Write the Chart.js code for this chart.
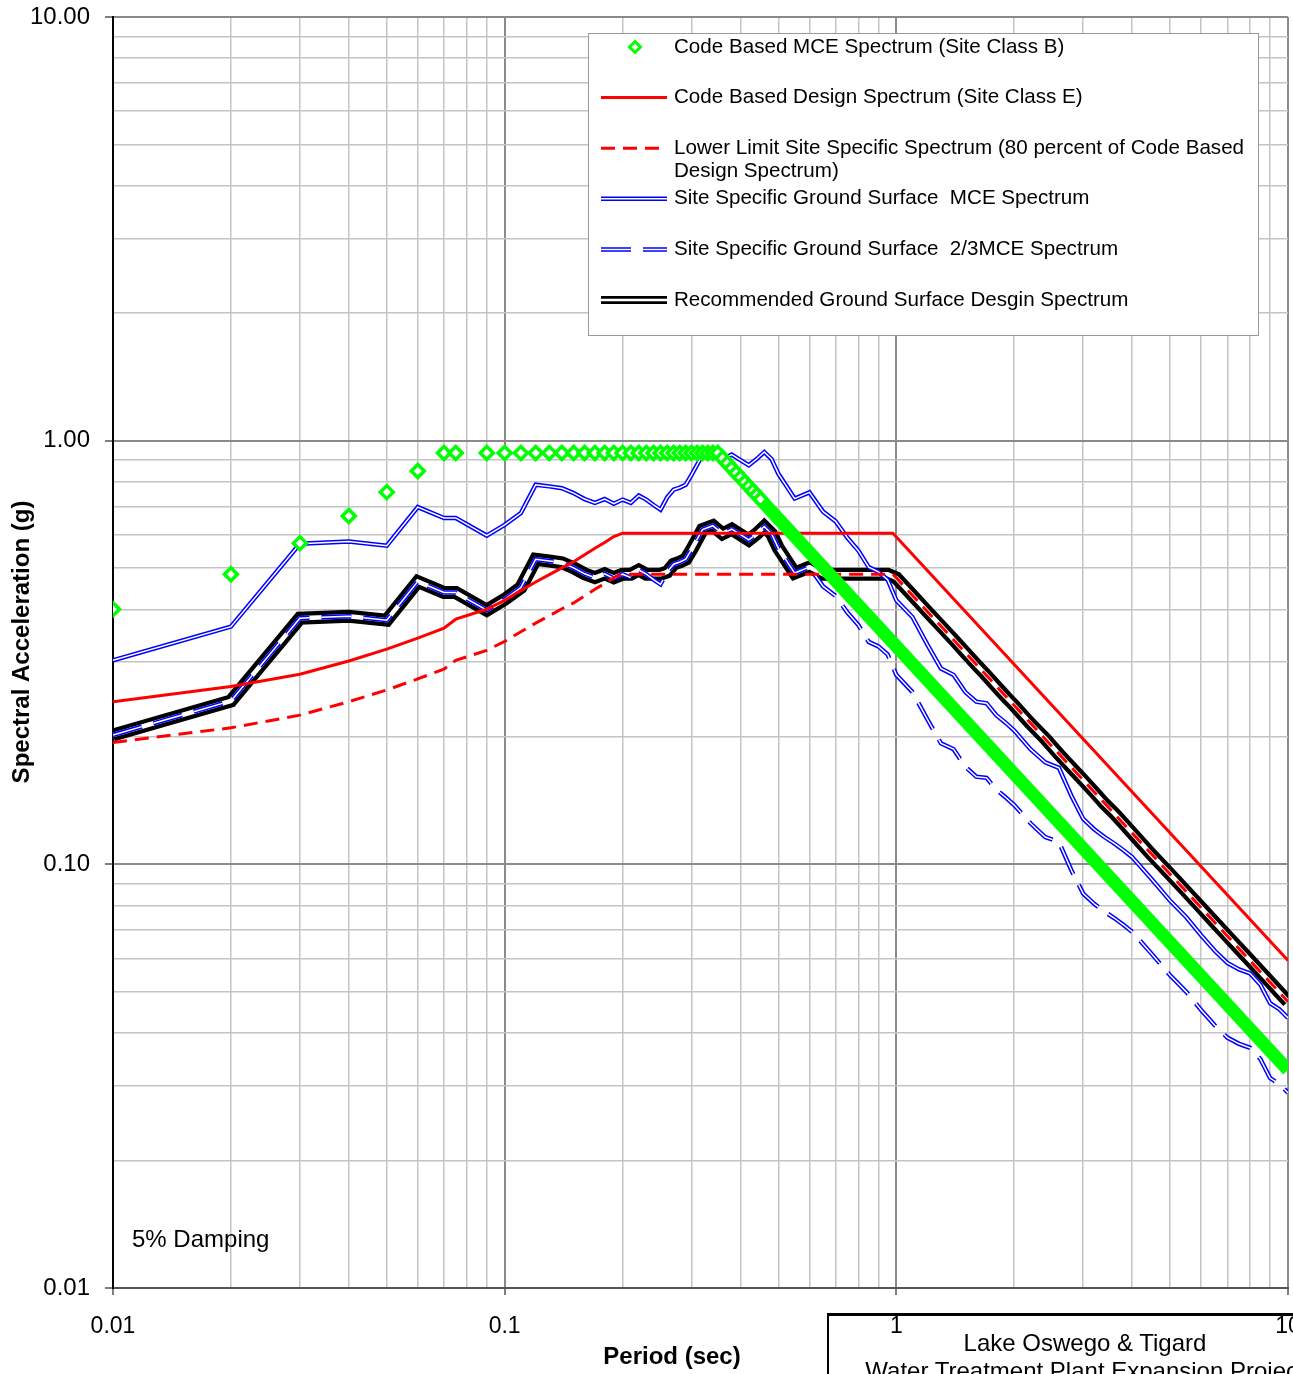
<!DOCTYPE html>
<html>
<head>
<meta charset="utf-8">
<title>Response Spectra</title>
<script src="https://cdn.jsdelivr.net/npm/chart.js@4.4.0/dist/chart.umd.min.js"></script>
<style>
  html, body { margin: 0; padding: 0; background: #fff; overflow: hidden; }
  #wrap { position: relative; width: 1293px; height: 1374px; }
  #titleBlock {
    position: absolute; left: 827px; top: 1313px; width: 514px; height: 90px;
    box-sizing: border-box; border-top: 3px solid #000; border-left: 2px solid #000;
    padding-top: 13px; text-align: center; line-height: 30px; color: #000;
    font: 24px "Liberation Sans", Arial, sans-serif;
  }
</style>
</head>
<body>
<div id="wrap">
  <canvas id="grafica" width="1293" height="1374"></canvas>
  <div id="titleBlock">Lake Oswego &amp; Tigard<br>Water Treatment Plant Expansion Project</div>
</div>
<script>
// Periodos y ordenadas (Sa en g)
const decades = [0.01, 0.1, 1, 10];
const xTickLabels = ['0.01', '0.1', '1', '10'];
const yTickLabels = ['0.01', '0.10', '1.00', '10.00'];

// Code Based MCE Spectrum (Site Class B)
const mceBPeriods = [0.01, 0.02, 0.03, 0.04, 0.05, 0.06, 0.07, 0.075, 0.09,
  0.10, 0.11, 0.12, 0.13, 0.14, 0.15, 0.16, 0.17, 0.18, 0.19, 0.20, 0.21, 0.22,
  0.23, 0.24, 0.25, 0.26, 0.27, 0.28, 0.29, 0.30, 0.31, 0.32, 0.33, 0.34, 0.35,
  0.36, 0.37, 0.38, 0.39, 0.40, 0.41, 0.42, 0.43, 0.44, 0.45, 10];
const mceB = [0.400, 0.484, 0.573, 0.664, 0.756, 0.848, 0.935, 0.935, 0.935,
  0.935, 0.935, 0.935, 0.935, 0.935, 0.935, 0.935, 0.935, 0.935, 0.935, 0.935, 0.935, 0.935,
  0.935, 0.935, 0.935, 0.935, 0.935, 0.935, 0.935, 0.935, 0.935, 0.935, 0.935, 0.935, 0.935,
  0.909, 0.884, 0.861, 0.839, 0.818, 0.798, 0.779, 0.761, 0.744, 0.727, 0.0327];

// Code Based Design Spectrum (Site Class E) y limite inferior (80 %)
const codePeriods = [0.01, 0.02, 0.03, 0.04, 0.05, 0.06, 0.07, 0.075, 0.09, 0.10,
  0.11, 0.12, 0.13, 0.14, 0.15, 0.16, 0.17, 0.18, 0.19, 0.20, 0.98, 10];
const codeDesign = [0.242, 0.263, 0.281, 0.302, 0.322, 0.342, 0.361, 0.379, 0.400, 0.420,
  0.443, 0.464, 0.483, 0.501, 0.518, 0.538, 0.557, 0.575, 0.594, 0.605, 0.605, 0.0593];
const lowerLimit = [0.194, 0.210, 0.225, 0.242, 0.258, 0.274, 0.289, 0.303, 0.320, 0.336,
  0.354, 0.371, 0.386, 0.401, 0.414, 0.430, 0.446, 0.460, 0.475, 0.484, 0.484, 0.0474];

// Espectros especificos del sitio
const sitePeriods = [0.01, 0.02, 0.03, 0.04, 0.05, 0.06, 0.07, 0.075, 0.09, 0.10,
  0.11, 0.12, 0.13, 0.14, 0.15, 0.16, 0.17, 0.18, 0.19, 0.20,
  0.21, 0.22, 0.23, 0.24, 0.25, 0.26, 0.27, 0.28, 0.29, 0.30,
  0.32, 0.34, 0.36, 0.38, 0.40, 0.42, 0.44, 0.46, 0.48, 0.50,
  0.55, 0.60, 0.65, 0.70, 0.75, 0.80, 0.85, 0.90, 0.95, 1.0,
  1.1, 1.2, 1.3, 1.4, 1.5, 1.6, 1.7, 1.8, 1.9, 2.0,
  2.2, 2.4, 2.6, 2.8, 3.0, 3.2, 3.4, 3.6, 3.8, 4.0,
  4.5, 5.0, 5.5, 6.0, 6.5, 7.0, 7.5, 8.0, 8.5, 9.0, 9.5, 10];
const siteMCE = [0.303, 0.364, 0.571, 0.578, 0.565, 0.697, 0.657, 0.657, 0.597, 0.633,
  0.675, 0.787, 0.780, 0.772, 0.752, 0.728, 0.713, 0.728, 0.710, 0.726,
  0.713, 0.742, 0.726, 0.705, 0.687, 0.735, 0.766, 0.775, 0.787, 0.830,
  0.925, 0.945, 0.905, 0.927, 0.900, 0.875, 0.905, 0.940, 0.905, 0.835,
  0.730, 0.755, 0.680, 0.645, 0.590, 0.550, 0.503, 0.490, 0.470, 0.420,
  0.383, 0.330, 0.290, 0.280, 0.255, 0.242, 0.240, 0.225, 0.216, 0.207,
  0.187, 0.174, 0.169, 0.145, 0.128, 0.121, 0.116, 0.112, 0.108, 0.104,
  0.092, 0.082, 0.075, 0.068, 0.0625, 0.0585, 0.0565, 0.0553, 0.052, 0.047, 0.0455, 0.0434];
const site23MCE = [0.202, 0.243, 0.381, 0.385, 0.377, 0.465, 0.438, 0.438, 0.398, 0.422,
  0.450, 0.525, 0.520, 0.515, 0.501, 0.485, 0.475, 0.485, 0.473, 0.484,
  0.475, 0.495, 0.484, 0.470, 0.458, 0.490, 0.511, 0.517, 0.525, 0.553,
  0.617, 0.630, 0.603, 0.618, 0.600, 0.583, 0.603, 0.627, 0.603, 0.557,
  0.487, 0.503, 0.453, 0.430, 0.393, 0.367, 0.335, 0.327, 0.313, 0.280,
  0.255, 0.220, 0.193, 0.187, 0.170, 0.161, 0.160, 0.150, 0.144, 0.138,
  0.125, 0.116, 0.113, 0.0967, 0.0853, 0.0807, 0.0773, 0.0747, 0.0720, 0.0693,
  0.0613, 0.0547, 0.0500, 0.0453, 0.0417, 0.0390, 0.0377, 0.0369, 0.0347, 0.0313, 0.0303, 0.0289];
const recommended = [0.202, 0.243, 0.381, 0.385, 0.377, 0.465, 0.438, 0.438, 0.398, 0.422,
  0.450, 0.525, 0.520, 0.515, 0.501, 0.485, 0.475, 0.485, 0.475, 0.484,
  0.484, 0.495, 0.484, 0.484, 0.484, 0.490, 0.511, 0.517, 0.525, 0.553,
  0.617, 0.630, 0.603, 0.618, 0.600, 0.583, 0.603, 0.627, 0.603, 0.557,
  0.487, 0.503, 0.484, 0.484, 0.484, 0.484, 0.484, 0.484, 0.484, 0.474,
  0.431, 0.395, 0.365, 0.339, 0.316, 0.296, 0.279, 0.263, 0.249, 0.237,
  0.215, 0.198, 0.182, 0.169, 0.158, 0.148, 0.139, 0.132, 0.125, 0.1185,
  0.105, 0.0948, 0.0862, 0.079, 0.0729, 0.0677, 0.0632, 0.0593, 0.0558, 0.0527, 0.0499, 0.0474];

const FONT = '"Liberation Sans", Arial, sans-serif';
const pts = (xs, ys) => xs.map((x, i) => ({ x: x, y: ys[i] }));
const isDecade = v => Math.abs(Math.log10(v) - Math.round(Math.log10(v))) < 1e-6;
const decadeLabel = (v, labels) => {
  const i = decades.findIndex(d => Math.abs(v / d - 1) < 1e-6);
  return i < 0 ? '' : labels[i];
};
function logTicks(scale) {
  const ticks = [];
  decades.slice(0, -1).forEach(d => {
    for (let m = 1; m <= 9; m++) ticks.push({ value: +(m * d).toPrecision(6) });
  });
  ticks.push({ value: decades[decades.length - 1] });
  scale.ticks = ticks;
}
const gridOpts = (len) => ({
  color: c => c.tick && isDecade(c.tick.value) ? '#8a8a8a' : '#c4c4c4',
  lineWidth: c => c.tick && isDecade(c.tick.value) ? 2 : 1.5,
  tickColor: c => c.tick && isDecade(c.tick.value) ? '#555' : 'rgba(0,0,0,0)',
  tickLength: len,
  tickWidth: 1.5
});

// leyenda dentro del area, recuadro blanco
const extras = {
  id: 'extras',
  afterDraw(chart) {
    const ctx = chart.ctx;
    ctx.save();
    ctx.fillStyle = '#fff';
    ctx.strokeStyle = '#9a9a9a';
    ctx.lineWidth = 1;
    ctx.fillRect(588, 33, 670, 302);
    ctx.strokeRect(588.5, 33.5, 670, 302);

    ctx.font = '20.6px ' + FONT;
    ctx.textBaseline = 'middle';
    ctx.textAlign = 'left';
    const entries = chart.data.datasets.filter(d => !d.helper);
    entries.forEach((ds, i) => {
      const y = 47 + i * 50.6;
      if (ds.pointStyle === 'rectRot') {
        const x = 635, r = 5.5;
        ctx.beginPath();
        ctx.moveTo(x, y - r); ctx.lineTo(x + r, y); ctx.lineTo(x, y + r); ctx.lineTo(x - r, y);
        ctx.closePath();
        ctx.fillStyle = '#fff'; ctx.fill();
        ctx.strokeStyle = ds.pointBorderColor; ctx.lineWidth = 3; ctx.stroke();
      } else {
        const strokes = [[ds.borderColor, ds.legendWidth || ds.borderWidth]];
        if (ds.legendInner) strokes.push(['#fff', ds.legendInner]);
        strokes.forEach(s => {
          ctx.beginPath();
          ctx.setLineDash(ds.borderDash || []);
          ctx.strokeStyle = s[0]; ctx.lineWidth = s[1];
          ctx.moveTo(601, y); ctx.lineTo(667, y); ctx.stroke();
        });
        ctx.setLineDash([]);
      }
      // texto con ajuste de linea
      ctx.fillStyle = '#000';
      const words = ds.label.split(' ');
      let line = '', ly = y;
      words.forEach(w => {
        const test = line ? line + ' ' + w : w;
        if (ctx.measureText(test).width > 580 && line) {
          ctx.fillText(line, 674, ly); line = w; ly += 23;
        } else line = test;
      });
      ctx.fillText(line, 674, ly);
    });

    ctx.font = '24px ' + FONT;
    ctx.fillText('5% Damping', 132, 1240);
    ctx.font = 'bold 24px ' + FONT;
    ctx.textAlign = 'center';
    ctx.fillText('Period (sec)', 672, 1357);
    ctx.translate(22, 642);
    ctx.rotate(-Math.PI / 2);
    ctx.fillText('Spectral Acceleration (g)', 0, 0);
    ctx.restore();
  }
};

const ctxG = document.getElementById('grafica').getContext('2d');
const grafica = new Chart(ctxG, {
  type: 'line',
  data: {
    datasets: [
      {
        label: 'Code Based MCE Spectrum (Site Class B)',
        data: pts(mceBPeriods, mceB),
        borderColor: '#00ff00', borderWidth: 13,
        segment: { borderColor: c => c.p1.parsed.y < c.p0.parsed.y ? '#00ff00' : 'rgba(0,0,0,0)' },
        pointStyle: 'rectRot',
        pointRadius: c => (c.raw && c.raw.x > 0.46) ? 0 : 6.5,
        pointBorderWidth: 3.5, pointBorderColor: '#00ff00', pointBackgroundColor: '#ffffff',
        order: 1
      },
      {
        label: 'Code Based Design Spectrum (Site Class E)',
        data: pts(codePeriods, codeDesign),
        borderColor: '#ff0000', borderWidth: 3, pointRadius: 0, order: 2
      },
      {
        label: 'Lower Limit Site Specific Spectrum (80 percent of Code Based Design Spectrum)',
        data: pts(codePeriods, lowerLimit),
        borderColor: '#ff0000', borderWidth: 3, borderDash: [14, 8], pointRadius: 0, order: 3
      },
      {
        label: 'Site Specific Ground Surface  MCE Spectrum',
        data: pts(sitePeriods, siteMCE),
        borderColor: '#0000ff', borderWidth: 4.5, legendInner: 1.5, pointRadius: 0, order: 7
      },
      {
        label: '', helper: true,
        data: pts(sitePeriods, siteMCE),
        borderColor: '#ffffff', borderWidth: 1.5, pointRadius: 0, order: 6
      },
      {
        label: 'Site Specific Ground Surface  2/3MCE Spectrum',
        data: pts(sitePeriods, site23MCE),
        borderColor: '#0000ff', borderWidth: 4.5, borderDash: [30, 12], legendInner: 1.5,
        pointRadius: 0, order: 5
      },
      {
        label: '', helper: true,
        data: pts(sitePeriods, site23MCE),
        borderColor: '#ffffff', borderWidth: 1.5, borderDash: [30, 12], pointRadius: 0, order: 4
      },
      {
        label: 'Recommended Ground Surface Desgin Spectrum',
        data: pts(sitePeriods, recommended),
        borderColor: '#000000', borderWidth: 13, legendWidth: 8, legendInner: 2.5,
        pointRadius: 0, order: 9
      },
      {
        label: '', helper: true,
        data: pts(sitePeriods, recommended),
        borderColor: '#ffffff', borderWidth: 4.5, pointRadius: 0, order: 8
      }
    ]
  },
  options: {
    responsive: false,
    animation: false,
    events: [],
    elements: { line: { tension: 0, fill: false } },
    layout: { autoPadding: false, padding: { top: 17, right: 5, left: 0, bottom: 0 } },
    plugins: { legend: { display: false }, tooltip: { enabled: false } },
    scales: {
      x: {
        type: 'logarithmic', min: 0.01, max: 10,
        afterBuildTicks: logTicks,
        afterFit: s => { s.height = 86; s.paddingLeft = 0; s.paddingRight = 0; },
        grid: gridOpts(7),
        border: { color: '#555', width: 2 },
        ticks: {
          autoSkip: false, maxRotation: 0, padding: 18, color: '#000',
          font: { family: FONT, size: 23 },
          callback: v => decadeLabel(v, xTickLabels)
        }
      },
      y: {
        type: 'logarithmic', min: 0.01, max: 10,
        afterBuildTicks: logTicks,
        afterFit: s => { s.width = 113; s.paddingTop = 0; s.paddingBottom = 0; },
        grid: gridOpts(8),
        border: { color: '#000', width: 2 },
        ticks: {
          autoSkip: false, padding: 15, color: '#000',
          font: { family: FONT, size: 24 },
          callback: v => decadeLabel(v, yTickLabels)
        }
      }
    }
  },
  plugins: [extras]
});
</script>
</body>
</html>
